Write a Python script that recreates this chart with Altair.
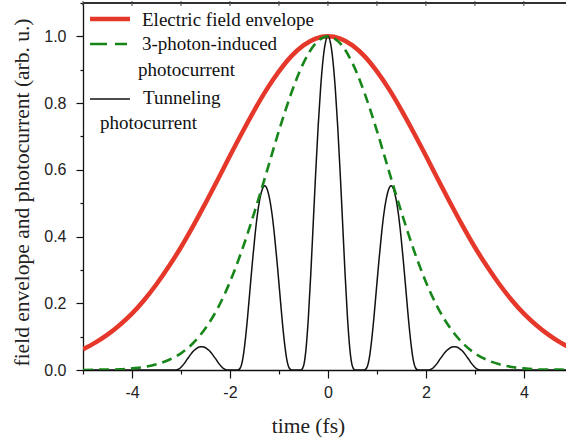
import altair as alt
import pandas as pd

# ---- data ----
env_t = [-5.0, -4.75, -4.5, -4.25, -4.0, -3.75, -3.5, -3.25, -3.0, -2.75, -2.5, -2.25,
         -2.0, -1.75, -1.5, -1.25, -1.0, -0.75, -0.5, -0.25, 0.0, 0.25, 0.5, 0.75,
         1.0, 1.25, 1.5, 1.75, 2.0, 2.25, 2.5, 2.75, 3.0, 3.25, 3.5, 3.75, 4.0, 4.25,
         4.5, 4.75, 5.0]
field_env = [0.062, 0.082, 0.106, 0.135, 0.169, 0.210, 0.257, 0.310, 0.368, 0.432, 0.500,
             0.570, 0.642, 0.712, 0.779, 0.841, 0.895, 0.940, 0.973, 0.993, 1.000, 0.993,
             0.973, 0.940, 0.895, 0.841, 0.779, 0.712, 0.642, 0.570, 0.500, 0.432, 0.368,
             0.310, 0.257, 0.210, 0.169, 0.135, 0.106, 0.082, 0.062]
three_photon = [0.000, 0.001, 0.001, 0.002, 0.005, 0.009, 0.017, 0.030, 0.050, 0.081, 0.125,
                0.185, 0.264, 0.361, 0.473, 0.594, 0.717, 0.829, 0.920, 0.979, 1.000, 0.979,
                0.920, 0.829, 0.717, 0.594, 0.473, 0.361, 0.264, 0.185, 0.125, 0.081, 0.050,
                0.030, 0.017, 0.009, 0.005, 0.002, 0.001, 0.001, 0.000]

tun_t = [-5.0,
         -3.13, -3.08, -3.03, -2.98, -2.93, -2.88, -2.83, -2.78, -2.73, -2.68, -2.63, -2.58,
         -2.53, -2.48, -2.43, -2.38, -2.33, -2.28, -2.23, -2.18, -2.13, -2.08, -2.03,
         -1.84, -1.79, -1.74, -1.69, -1.64, -1.59, -1.54, -1.49, -1.44, -1.39, -1.34, -1.29,
         -1.24, -1.19, -1.14, -1.09, -1.04, -0.99, -0.94, -0.89, -0.84, -0.79, -0.74,
         -0.55, -0.50, -0.45, -0.40, -0.35, -0.30, -0.25, -0.20, -0.15, -0.10, -0.05, 0.0,
         0.05, 0.10, 0.15, 0.20, 0.25, 0.30, 0.35, 0.40, 0.45, 0.50, 0.55,
         0.74, 0.79, 0.84, 0.89, 0.94, 0.99, 1.04, 1.09, 1.14, 1.19, 1.24, 1.29,
         1.34, 1.39, 1.44, 1.49, 1.54, 1.59, 1.64, 1.69, 1.74, 1.79, 1.84,
         2.03, 2.08, 2.13, 2.18, 2.23, 2.28, 2.33, 2.38, 2.43, 2.48, 2.53, 2.58,
         2.63, 2.68, 2.73, 2.78, 2.83, 2.88, 2.93, 2.98, 3.03, 3.08, 3.13,
         5.0]
tunneling = [0.0,
             0.0, 0.001, 0.004, 0.011, 0.020, 0.031, 0.041, 0.051, 0.059, 0.065, 0.069, 0.070,
             0.069, 0.065, 0.059, 0.051, 0.041, 0.031, 0.020, 0.011, 0.004, 0.001, 0.0,
             0.0, 0.006, 0.032, 0.086, 0.159, 0.243, 0.326, 0.402, 0.466, 0.513, 0.542, 0.552,
             0.542, 0.513, 0.466, 0.402, 0.326, 0.243, 0.159, 0.086, 0.032, 0.006, 0.0,
             0.0, 0.011, 0.059, 0.155, 0.288, 0.440, 0.591, 0.729, 0.844, 0.930, 0.982, 1.000,
             0.982, 0.930, 0.844, 0.729, 0.591, 0.440, 0.288, 0.155, 0.059, 0.011, 0.0,
             0.0, 0.006, 0.032, 0.086, 0.159, 0.243, 0.326, 0.402, 0.466, 0.513, 0.542, 0.552,
             0.542, 0.513, 0.466, 0.402, 0.326, 0.243, 0.159, 0.086, 0.032, 0.006, 0.0,
             0.0, 0.001, 0.004, 0.011, 0.020, 0.031, 0.041, 0.051, 0.059, 0.065, 0.069, 0.070,
             0.069, 0.065, 0.059, 0.051, 0.041, 0.031, 0.020, 0.011, 0.004, 0.001, 0.0,
             0.0]

x_ticks = [-5, -4, -3, -2, -1, 0, 1, 2, 3, 4]
y_ticks = [0.0, 0.1, 0.2, 0.3, 0.4, 0.5, 0.6, 0.7, 0.8, 0.9, 1.0, 1.1]

legend_labels = ["Electric field envelope", "3-photon-induced", "photocurrent",
                 "Tunneling", "photocurrent"]

RED = "#e5372a"
GREEN = "#17861a"
BLACK = "#111111"

env_df = pd.DataFrame({"t": env_t, "v": field_env})
three_df = pd.DataFrame({"t": env_t, "v": three_photon})
tun_df = pd.DataFrame({"t": tun_t, "v": tunneling})
top_df = pd.DataFrame({"t": x_ticks})

xscale = alt.Scale(domain=[-5, 4.86], nice=False, zero=False)
yscale = alt.Scale(domain=[0, 1.1], nice=False, zero=False)

bottom_axis = alt.Axis(
    orient="bottom", values=x_ticks, grid=False,
    labelExpr="abs(datum.value % 2) < 0.01 ? (datum.value < 0 ? '-' + abs(datum.value) : '' + datum.value) : ''",
    tickSize={"condition": {"test": "abs(datum.value % 2) < 0.01", "value": 8}, "value": 4},
    tickColor=BLACK, tickWidth=1.2, domainColor=BLACK, domainWidth=1.3,
    labelFont="Liberation Sans", labelFontSize=16, labelColor="#222222",
    labelPadding=6, labelFlush=False, labelOverlap=False,
    title="time (fs)", titleFont="Liberation Serif", titleFontSize=21.5,
    titleFontWeight="normal", titleColor="#222222",
    titleX=225, titleY=62, titleBaseline="alphabetic", titleAlign="center",
)

left_axis = alt.Axis(
    orient="left", values=y_ticks, grid=False,
    labelExpr="round(datum.value * 10) % 2 == 0 ? format(datum.value, '.1f') : ''",
    tickSize={"condition": {"test": "round(datum.value * 10) % 2 == 0", "value": 7}, "value": 3},
    tickColor=BLACK, tickWidth=1.2, domainColor=BLACK, domainWidth=1.3,
    labelFont="Liberation Sans", labelFontSize=16, labelColor="#222222",
    labelPadding=10, labelFlush=False, labelOverlap=False,
    title="field envelope and photocurrent (arb. u.)", titleFont="Liberation Serif",
    titleFontSize=21.5, titleFontWeight="normal", titleColor="#222222",
    titleAngle=270, titleX=-55, titleY=189, titleBaseline="alphabetic", titleAlign="center",
)

X = alt.X("t:Q", scale=xscale, axis=bottom_axis, title="time (fs)")
Y = alt.Y("v:Q", scale=yscale, axis=left_axis,
          title="field envelope and photocurrent (arb. u.)")

red_line = alt.Chart(env_df).mark_line(
    color=RED, strokeWidth=4.5, clip=True, interpolate="monotone"
).encode(x=X, y=Y)

black_line = alt.Chart(tun_df).mark_line(
    color=BLACK, strokeWidth=1.5, clip=True, interpolate="monotone"
).encode(x=X, y=Y)

green_line = alt.Chart(three_df).mark_line(
    color=GREEN, strokeWidth=2.6, strokeDash=[10, 6], clip=True, interpolate="monotone"
).encode(x=X, y=Y)

# top frame line and its small ticks
top_frame = alt.Chart(top_df).mark_rule(color="#333333", strokeWidth=1.3).encode(
    x=alt.value(0), x2=alt.value(483), y=alt.value(0))
top_ticks = alt.Chart(top_df).mark_rule(color="#444444", strokeWidth=1).encode(
    x=X, y=alt.value(-2), y2=alt.value(3))

one = alt.Data(values=[{"k": 1}])

leg_red = alt.Chart(one).mark_rule(color=RED, strokeWidth=4.5).encode(
    x=alt.value(7), x2=alt.value(47), y=alt.value(16))
leg_green = alt.Chart(one).mark_rule(color=GREEN, strokeWidth=2.6, strokeDash=[17, 8]).encode(
    x=alt.value(7), x2=alt.value(44), y=alt.value(41))
leg_black = alt.Chart(one).mark_rule(color=BLACK, strokeWidth=1.5).encode(
    x=alt.value(7), x2=alt.value(47), y=alt.value(96))

text_pos = [(59, 22.7), (59, 47.4), (55, 72.7), (60, 100.7), (17, 126)]
leg_texts = []
for label, (px, py) in zip(legend_labels, text_pos):
    leg_texts.append(
        alt.Chart(one).mark_text(
            text=label, align="left", baseline="alphabetic",
            font="Liberation Serif", fontSize=19, color=BLACK,
        ).encode(x=alt.value(px), y=alt.value(py))
    )

chart = alt.layer(
    red_line, black_line, green_line, top_frame, top_ticks,
    leg_red, leg_green, leg_black, *leg_texts
).properties(
    width=483, height=367,
    autosize=alt.AutoSizeParams(type="none"),
    padding={"left": 83, "top": 3, "right": 0, "bottom": 69},
    background="white",
).configure_view(stroke=None)

chart.save("out.html", embed_options={"renderer": "svg", "actions": False})
